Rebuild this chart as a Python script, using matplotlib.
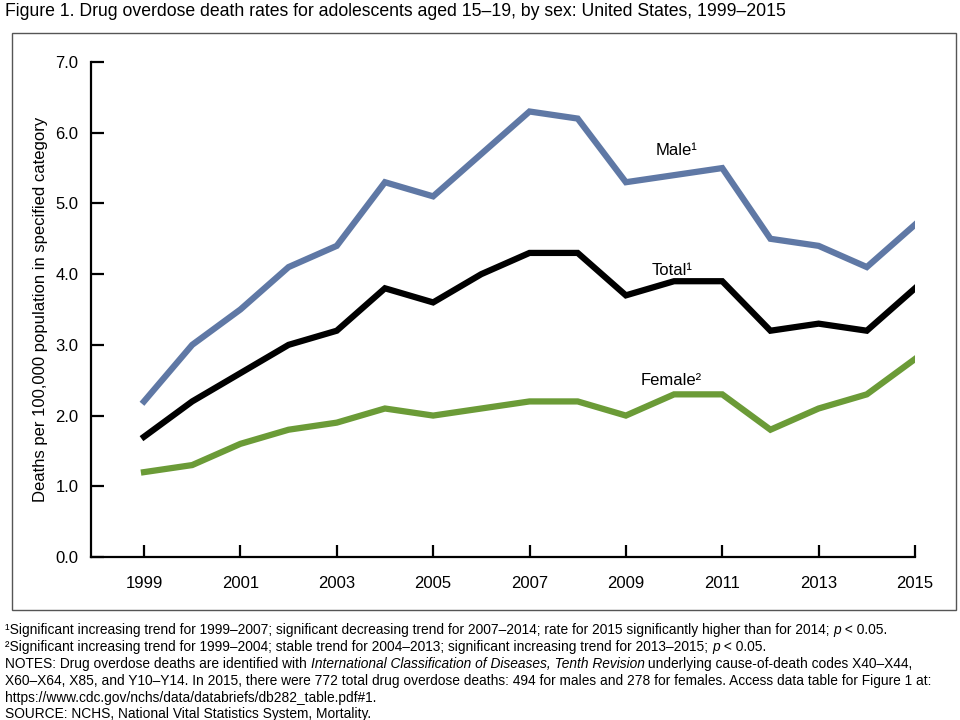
import matplotlib
matplotlib.use("Agg")
import matplotlib.pyplot as plt
from matplotlib.patches import Rectangle
from matplotlib import font_manager

years = list(range(1999, 2016))
male = [2.2, 3.0, 3.5, 4.1, 4.4, 5.3, 5.1, 5.7, 6.3, 6.2, 5.3, 5.4, 5.5, 4.5, 4.4, 4.1, 4.7]
total = [1.7, 2.2, 2.6, 3.0, 3.2, 3.8, 3.6, 4.0, 4.3, 4.3, 3.7, 3.9, 3.9, 3.2, 3.3, 3.2, 3.8]
female = [1.2, 1.3, 1.6, 1.8, 1.9, 2.1, 2.0, 2.1, 2.2, 2.2, 2.0, 2.3, 2.3, 1.8, 2.1, 2.3, 2.8]
xticks = list(range(1999, 2016, 2))
yticks = [0, 1, 2, 3, 4, 5, 6, 7]

names = {f.name for f in font_manager.fontManager.ttflist}
SANS = "Liberation Sans" if "Liberation Sans" in names else "DejaVu Sans"
NARROW = "Liberation Sans Narrow" if "Liberation Sans Narrow" in names else SANS
plt.rcParams["font.family"] = [SANS, "DejaVu Sans"]

fig = plt.figure(figsize=(9.6, 7.2), dpi=100)
fig.patches.append(Rectangle((12/960, 1-610/720), (956-12)/960, (610-33)/720,
                             transform=fig.transFigure, fill=False,
                             edgecolor="#555555", linewidth=1.0))

ax = fig.add_axes([91/960, 1-557/720, (915-91)/960, (557-62)/720])
ax.plot(years, male, color="#5f78a5", lw=4.5, solid_joinstyle="miter")
ax.plot(years, total, color="#000000", lw=4.5, solid_joinstyle="miter")
ax.plot(years, female, color="#6b9b37", lw=4.5, solid_joinstyle="miter")

ax.set_xlim(1997.9, 2015)
ax.set_ylim(0, 7)
ax.set_xticks(xticks)
ax.set_xticklabels([str(y) for y in xticks])
ax.set_yticks(yticks)
ax.set_yticklabels([f"{v:.1f}" for v in yticks])
for s in ["top", "right"]:
    ax.spines[s].set_visible(False)
for s in ["left", "bottom"]:
    ax.spines[s].set_linewidth(1.6)
ax.tick_params(axis="both", direction="in", length=9, width=1.6, labelsize=12)
ax.tick_params(axis="x", pad=14)
ax.tick_params(axis="y", pad=9)
ax.set_ylabel("Deaths per 100,000 population in specified category", fontsize=12, labelpad=5.5)

ax.text(2010.05, 5.75, "Male¹", fontsize=12, ha="center", va="center")
ax.text(2009.95, 4.05, "Total¹", fontsize=12, ha="center", va="center")
ax.text(2009.95, 2.5, "Female²", fontsize=12, ha="center", va="center")

fig.text(5/960, 1-12/720, "Figure 1. Drug overdose death rates for adolescents aged 15–19, by sex: United States, 1999–2015",
         fontsize=12.7, ha="left", va="center")

# footnotes with mixed styles
lines = [
    [("¹Significant increasing trend for 1999–2007; significant decreasing trend for 2007–2014; rate for 2015 significantly higher than for 2014; ", "normal"), ("p", "italic"), (" < 0.05.", "normal")],
    [("²Significant increasing trend for 1999–2004; stable trend for 2004–2013; significant increasing trend for 2013–2015; ", "normal"), ("p", "italic"), (" < 0.05.", "normal")],
    [("NOTES: Drug overdose deaths are identified with ", "normal"), ("International Classification of Diseases, Tenth Revision", "italic"), (" underlying cause-of-death codes X40–X44,", "normal")],
    [("X60–X64, X85, and Y10–Y14. In 2015, there were 772 total drug overdose deaths: 494 for males and 278 for females. Access data table for Figure 1 at:", "normal")],
    [("https://www.cdc.gov/nchs/data/databriefs/db282_table.pdf#1.", "normal")],
    [("SOURCE: NCHS, National Vital Statistics System, Mortality.", "normal")],
]
ys = [630, 647, 664, 681, 698, 714]
fig.canvas.draw()
renderer = fig.canvas.get_renderer()
for runs, ypx in zip(lines, ys):
    xpx = 5
    for txt, style in runs:
        t = fig.text(xpx/960, 1-ypx/720, txt, fontsize=9.9, family=[NARROW, "DejaVu Sans"],
                     style=style, ha="left", va="center")
        bb = t.get_window_extent(renderer)
        xpx += bb.width
fig.savefig("out.png", dpi=100)
